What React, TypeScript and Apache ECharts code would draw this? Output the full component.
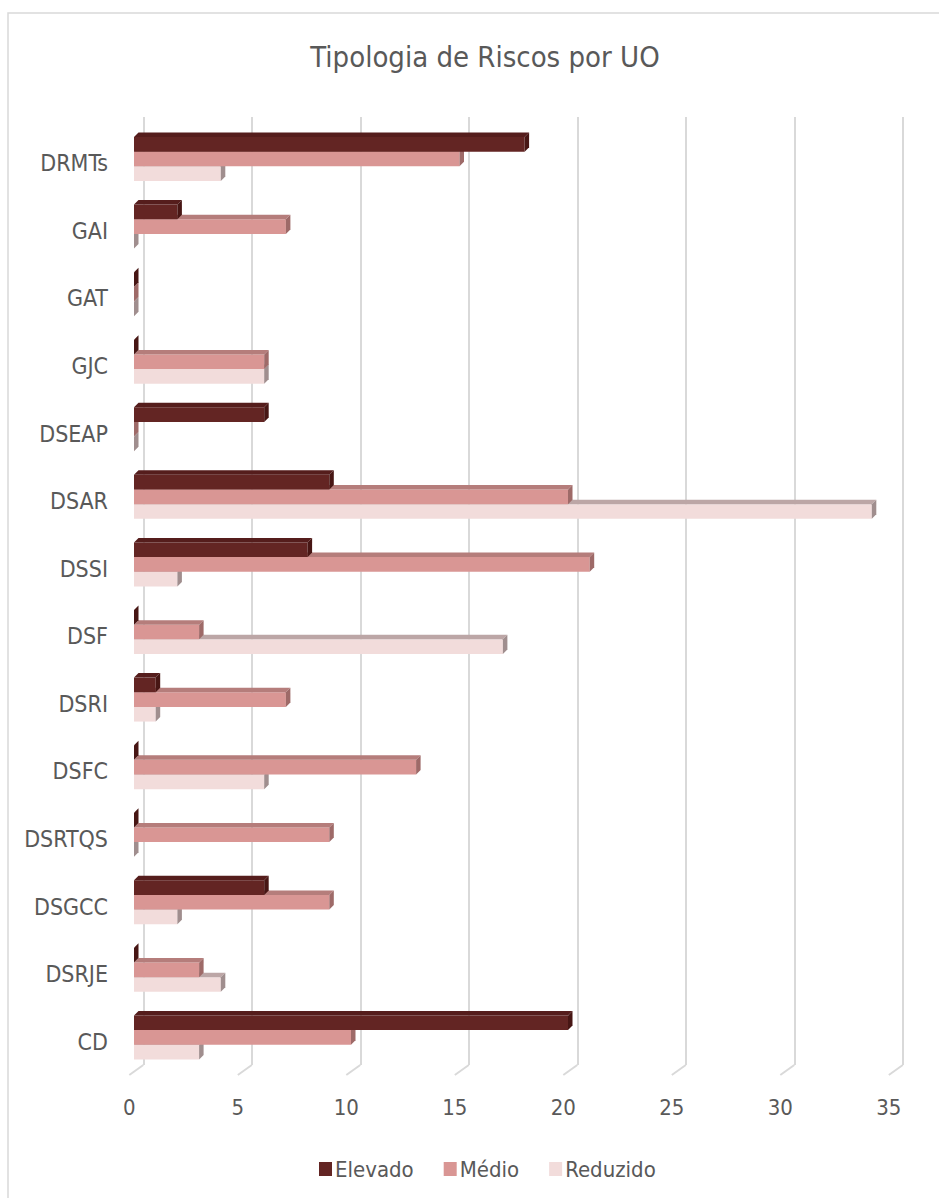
import React, { useEffect, useRef } from "react";
import * as echarts from "echarts";

const categories = ["DRMTs", "GAI", "GAT", "GJC", "DSEAP", "DSAR", "DSSI", "DSF", "DSRI", "DSFC", "DSRTQS", "DSGCC", "DSRJE", "CD"];
const elevado = [18, 2, 0, 0, 6, 9, 8, 0, 1, 0, 0, 6, 0, 20];
const medio = [15, 7, 0, 6, 0, 20, 21, 3, 7, 13, 9, 9, 3, 10];
const reduzido = [4, 0, 0, 6, 0, 34, 2, 17, 1, 6, 0, 2, 4, 3];
const xTicks = [0, 5, 10, 15, 20, 25, 30, 35];
const seriesNames = ["Elevado", "Médio", "Reduzido"];

const FONT = "'Liberation Sans Narrow', 'DejaVu Sans Condensed', sans-serif";
const TEXT = "#595959";
const GRID = "#d9d9d9";

const palettes = [
  { front: "#632523", top: "#551d1c", side: "#471614" },
  { front: "#d99694", top: "#b57d7b", side: "#9e6a68" },
  { front: "#f2dcdb", top: "#bca6a6", side: "#a08e8e" },
];

function barRenderer(i: number) {
  const pal = palettes[i];
  return (params: any, api: any) => {
    const v = api.value(0);
    const c = api.value(1);
    const band = api.size([0, 1])[1];
    const p0 = api.coord([0, c]);
    const p1 = api.coord([v, c]);
    const x0 = p0[0];
    const x1 = p1[0];
    const yc = p0[1];
    const h = band * 0.217;
    const top = yc - band * 0.389 + i * h;
    const bottom = top + h;
    const d = 4.5;
    return {
      type: "group",
      children: [
        {
          type: "rect",
          shape: { x: x0, y: top, width: Math.max(0, x1 - x0), height: h },
          style: { fill: pal.front },
        },
        {
          type: "polygon",
          shape: { points: [[x0, top], [x0 + d, top - d], [x1 + d, top - d], [x1, top]] },
          style: { fill: pal.top },
        },
        {
          type: "polygon",
          shape: { points: [[x1, top], [x1 + d, top - d], [x1 + d, bottom - d], [x1, bottom]] },
          style: { fill: pal.side },
        },
      ],
    };
  };
}

function floorRenderer(params: any, api: any) {
  const p = api.coord([api.value(0), 0]);
  const cs = params.coordSys;
  const by = cs.y + cs.height;
  return {
    type: "line",
    shape: { x1: p[0], y1: by, x2: p[0] + 14, y2: by - 10 },
    style: { stroke: GRID, lineWidth: 2 },
  };
}

export default function App() {
  const ref = useRef<HTMLDivElement>(null);
  useEffect(() => {
    if (!ref.current) return;
    const chart = echarts.init(ref.current, null, { renderer: "svg" });
    const W = 759.5;
    const dataSets = [elevado, medio, reduzido];
    const option: any = {
      animation: false,
      backgroundColor: "#ffffff",
      title: {
        text: "Tipologia de Riscos por UO",
        left: 480,
        top: 37,
        textAlign: "center",
        textStyle: { fontFamily: FONT, fontSize: 29, fontWeight: "normal", color: TEXT },
      },
      graphic: [
        {
          type: "rect",
          shape: { x: 8, y: 13, width: 1000, height: 1300 },
          style: { fill: "none", stroke: GRID, lineWidth: 1.5 },
          silent: true,
          z: -10,
        },
      ],
      legend: {
        data: seriesNames,
        left: 314,
        top: 1153,
        icon: "rect",
        itemWidth: 13,
        itemHeight: 14,
        itemGap: 30,
        textStyle: { fontFamily: FONT, fontSize: 22, color: TEXT, padding: [0, 0, 0, -2] },
      },
      grid: [
        { left: 134, top: 129.5, width: W, height: 946, containLabel: false },
        { left: 129.3, top: 129.5, width: W, height: 945.5, containLabel: false },
        { left: 143.3, top: 117, width: W, height: 948, containLabel: false },
      ],
      xAxis: [
        {
          gridIndex: 0, type: "value", min: 0, max: 35, interval: 5,
          axisLabel: { show: false }, axisLine: { show: false }, axisTick: { show: false }, splitLine: { show: false },
        },
        {
          gridIndex: 1, type: "value", min: 0, max: 35, interval: 5,
          axisLine: { show: false }, axisTick: { show: false }, splitLine: { show: false },
          axisLabel: { margin: 21, fontFamily: FONT, fontSize: 22, color: TEXT },
        },
        {
          gridIndex: 2, type: "value", min: 0, max: 35, interval: 5,
          axisLabel: { show: false }, axisLine: { show: false }, axisTick: { show: false },
          splitLine: { show: true, lineStyle: { color: GRID, width: 2 } },
        },
      ],
      yAxis: [
        {
          gridIndex: 0, type: "category", data: categories, inverse: true,
          axisLine: { show: false }, axisTick: { show: false }, splitLine: { show: false },
          axisLabel: { margin: 26, fontFamily: FONT, fontSize: 23, color: TEXT },
        },
        { gridIndex: 1, type: "value", min: 0, max: 1, show: false },
        { gridIndex: 2, type: "value", min: 0, max: 1, show: false },
      ],
      series: [
        {
          type: "custom",
          name: "floor",
          xAxisIndex: 1,
          yAxisIndex: 1,
          renderItem: floorRenderer,
          data: xTicks.map((t) => [t, 0]),
          silent: true,
          z: 1,
        },
        ...seriesNames.map((name, i) => ({
          type: "custom",
          name,
          xAxisIndex: 0,
          yAxisIndex: 0,
          renderItem: barRenderer(i),
          itemStyle: { color: palettes[i].front },
          data: dataSets[i].map((v, k) => [v, k]),
          encode: { x: 0, y: 1 },
          z: 10 - i,
          clip: false,
        })),
      ],
    };
    chart.setOption(option);
    return () => chart.dispose();
  }, []);
  return (
    <div
      ref={ref}
      style={{ position: "absolute", left: 0, top: 0, width: 939, height: 1198, background: "#fff" }}
    />
  );
}
